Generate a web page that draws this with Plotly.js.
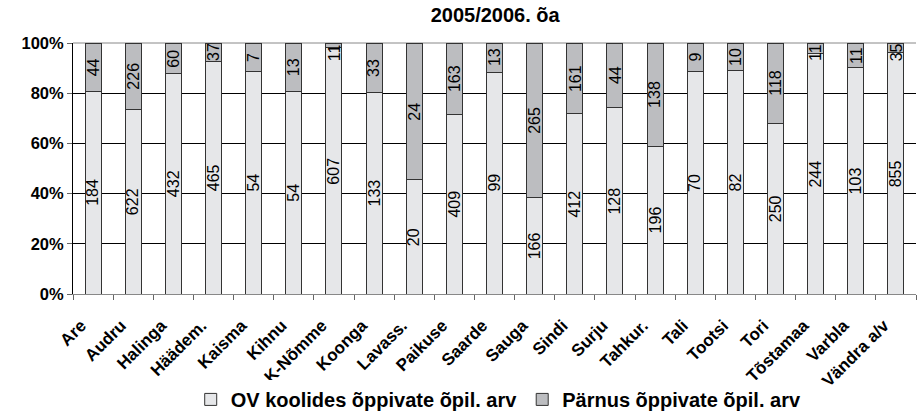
<!DOCTYPE html>
<html>
<head>
<meta charset="utf-8">
<script src="https://cdn.plot.ly/plotly-3.0.1.min.js"></script>
<style>html,body{margin:0;padding:0;background:#fff;}</style>
</head>
<body>
<div id="chart" style="width:917px;height:412px;"></div>
<script>
const categories = ["Are","Audru","Halinga","Häädem.","Kaisma","Kihnu","K-Nõmme","Koonga","Lavass.","Paikuse","Saarde","Sauga","Sindi","Surju","Tahkur.","Tali","Tootsi","Tori","Tõstamaa","Varbla","Vändra a/v"];
const ovValues = [184,622,432,465,54,54,607,133,20,409,99,166,412,128,196,70,82,250,244,103,855];
const parnuValues = [44,226,60,37,7,13,11,33,24,163,13,265,161,44,138,9,10,118,11,11,35];
const yTicks = [0,20,40,60,80,100];
const yTickLabels = ["0%","20%","40%","60%","80%","100%"];

const FONT = "Liberation Sans, Arial, sans-serif";
const LABEL_SIZE = 16;
const PLOT_H = 412 - 43 - 118;

const traces = [
  {
    type: 'bar', x: categories, y: ovValues,
    name: 'OV koolides õppivate õpil. arv',
    marker: {color: '#E6E7E9', line: {color: '#333333', width: 1}},
    hoverinfo: 'none'
  },
  {
    type: 'bar', x: categories, y: parnuValues,
    name: 'Pärnus õppivate õpil. arv',
    marker: {color: '#BCBDC0', line: {color: '#333333', width: 1}},
    hoverinfo: 'none'
  }
];

// value labels, centred in each segment, kept inside the plot area
const annotations = [];
categories.forEach((c, i) => {
  const tot = ovValues[i] + parnuValues[i];
  const ovPct = ovValues[i] / tot * 100;
  const pPct = parnuValues[i] / tot * 100;
  const half = t => String(t).length * 0.556 * LABEL_SIZE / 2 / PLOT_H * 100;
  const y1 = ovPct / 2;
  let y2 = ovPct + pPct / 2;
  y2 = Math.min(y2, 100 - half(parnuValues[i]) - 0.2);
  [[ovValues[i], y1], [parnuValues[i], y2]].forEach(([v, y]) => {
    annotations.push({
      x: c, y: y, xref: 'x', yref: 'y', text: String(v), showarrow: false,
      textangle: -90, xanchor: 'center', yanchor: 'middle',
      font: {family: FONT, size: LABEL_SIZE, color: '#000'}
    });
  });
});

const layout = {
  width: 917, height: 412,
  margin: {l: 73, r: 1, t: 43, b: 118, autoexpand: false},
  paper_bgcolor: '#fff', plot_bgcolor: '#fff',
  barmode: 'stack', barnorm: 'percent', bargap: 0.6,
  font: {family: FONT, color: '#000'},
  title: {text: '2005/2006. õa', x: 0.54, xanchor: 'center', y: 0.963, yanchor: 'middle',
          font: {family: FONT, size: 20, weight: 'bold', color: '#000'}},
  xaxis: {
    type: 'category', tickangle: -45, tickson: 'boundaries', automargin: false,
    ticks: 'outside', ticklen: 5, tickcolor: '#666',
    ticklabelstandoff: 14, ticklabelshift: -12,
    showline: true, linecolor: '#888', linewidth: 1,
    showgrid: false,
    tickfont: {family: FONT, size: 17, weight: 'bold', color: '#000'}
  },
  yaxis: {
    range: [0, 100], tickvals: yTicks, ticktext: yTickLabels, automargin: false,
    ticks: 'outside', ticklen: 5, tickcolor: '#666',
    showline: true, linecolor: '#000', linewidth: 1,
    showgrid: true, gridcolor: '#000', gridwidth: 1, zeroline: false,
    tickfont: {family: FONT, size: 16.5, weight: 'bold', color: '#000'}
  },
  annotations: annotations,
  shapes: [{type: 'line', xref: 'paper', yref: 'paper', x0: 0, x1: 1, y0: 1, y1: 1,
            line: {color: '#888', width: 1}, layer: 'below'}],
  showlegend: true,
  legend: {orientation: 'h', x: 0.505, xanchor: 'center', y: -0.42, yanchor: 'middle',
           font: {family: FONT, size: 20, weight: 'bold', color: '#000'},
           traceorder: 'normal', itemwidth: 20}
};

Plotly.newPlot('chart', traces, layout, {displayModeBar: false, staticPlot: true});
</script>
</body>
</html>
